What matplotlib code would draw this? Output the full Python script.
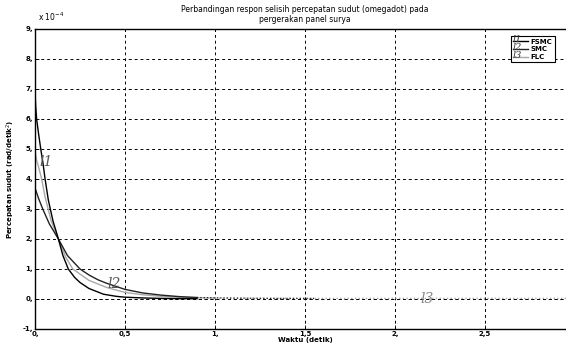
import matplotlib.pyplot as plt
from matplotlib.ticker import FuncFormatter

# values in units of 1e-4 rad/detik^2
fsmc_t = [0, 0.004, 0.009, 0.02, 0.032, 0.045, 0.056, 0.074, 0.1, 0.13, 0.155,
          0.185, 0.22, 0.25, 0.3, 0.38, 0.45, 0.5, 0.6, 0.7, 0.8, 0.9]
fsmc_y = [6.9, 6.4, 6.0, 5.5, 5.0, 4.5, 4.0, 3.3, 2.6, 2.0, 1.45,
          1.0, 0.72, 0.55, 0.35, 0.16, 0.09, 0.06, 0.035, 0.02, 0.012, 0.008]

smc_t = [0, 0.02, 0.043, 0.08, 0.13, 0.18, 0.25, 0.3, 0.35, 0.4, 0.5,
         0.6, 0.7, 0.8, 0.9]
smc_y = [3.7, 3.35, 3.0, 2.5, 2.0, 1.45, 1.0, 0.8, 0.64, 0.52, 0.32,
         0.2, 0.13, 0.08, 0.05]
smc_tail_t = [0.9, 1.1, 1.3, 1.55]
smc_tail_y = [0.05, 0.03, 0.02, 0.02]

flc_t = [0, 0, 0.01, 0.02, 0.037, 0.056, 0.09, 0.13, 0.17, 0.21, 0.3,
         0.4, 0.5, 0.6, 0.7, 0.8, 0.9, 1.0]
flc_y = [0, 4.9, 4.6, 4.4, 4.0, 3.4, 2.6, 2.0, 1.4, 1.0, 0.62,
         0.38, 0.22, 0.14, 0.09, 0.06, 0.04, 0.03]
flc_tail_t = [1.0, 1.5, 2.0, 2.5, 3.0]
flc_tail_y = [0.03, 0.02, 0.02, 0.02, 0.02]

x_ticks = [0, 0.5, 1, 1.5, 2, 2.5]
y_ticks = list(range(-1, 10))

TICK_SIZE = 5


def comma_fmt(v, pos):
    if abs(v - round(v)) < 1e-9:
        return f"{int(round(v))},"
    return f"{v:g}".replace(".", ",")


fig = plt.figure(figsize=(5.66, 3.47), dpi=100)
# axes runs a little past the right edge, like the cropped original
ax = fig.add_axes([35 / 566, 18 / 347, 540 / 566, 300 / 347])

ax.plot(flc_t, flc_y, color="#a8a8a8", lw=1.0, label="FLC")
ax.plot(flc_tail_t, flc_tail_y, color="#a8a8a8", lw=1.0, ls=":")
ax.plot(smc_t, smc_y, color="#222222", lw=1.0, label="SMC")
ax.plot(smc_tail_t, smc_tail_y, color="#222222", lw=0.9, ls=":")
ax.plot(fsmc_t, fsmc_y, color="black", lw=1.0, label="FSMC")

ax.set_xlim(0, 3)
ax.set_ylim(-1, 9)
ax.set_xticks(x_ticks)
ax.set_yticks(y_ticks)
ax.xaxis.set_major_formatter(FuncFormatter(comma_fmt))
ax.yaxis.set_major_formatter(FuncFormatter(comma_fmt))
ax.tick_params(labelsize=TICK_SIZE, length=3, width=0.6, direction="in", pad=1.5)
for lab in ax.get_xticklabels() + ax.get_yticklabels():
    lab.set_fontweight("bold")

ax.grid(True, color="black", ls=(0, (3, 3)), lw=0.7)
ax.axhline(0, color="black", ls=(0, (3, 3)), lw=0.7, zorder=0)
for s in ["left", "bottom", "top"]:
    ax.spines[s].set_linewidth(1.0)

ax.set_title("Perbandingan respon selisih percepatan sudut (omegadot) pada\npergerakan panel surya",
             fontsize=5.5, pad=5, linespacing=1.1)
ax.set_xlabel("Waktu (detik)", fontsize=5, fontweight="bold", labelpad=0)
ax.set_ylabel("Percepatan sudut (rad/detik$^2$)", fontsize=5, fontweight="bold", labelpad=4)
fig.text(38 / 566, 1 - 17 / 347, "x 10$^{-4}$", fontsize=5.5, va="center")

# hand-written curve labels
ax.text(0.025, 4.45, "l1", fontsize=10, style="italic", family="DejaVu Serif", color="#555555")
ax.text(0.4, 0.35, "l2", fontsize=10, style="italic", family="DejaVu Serif", color="#555555")
ax.text(2.14, -0.12, "l3", fontsize=10, style="italic", family="DejaVu Serif", color="#888888")

handles, labels = ax.get_legend_handles_labels()
order = [2, 1, 0]
leg = fig.legend([handles[i] for i in order], [labels[i] for i in order],
                 loc="upper right", bbox_to_anchor=(558 / 566, 1 - 33 / 347),
                 prop={"weight": "bold", "size": 5}, handlelength=2.2,
                 handletextpad=0.4, borderpad=0.3, labelspacing=0.25,
                 fancybox=False, framealpha=1, edgecolor="black")
leg.get_frame().set_linewidth(0.8)
for i, y in enumerate([39, 47, 55]):
    fig.text(513 / 566, 1 - y / 347, f"l{i + 1}", fontsize=7, style="italic",
             family="DejaVu Serif", color="#333333", va="center", zorder=10)

fig.savefig("out.png", dpi=100)
